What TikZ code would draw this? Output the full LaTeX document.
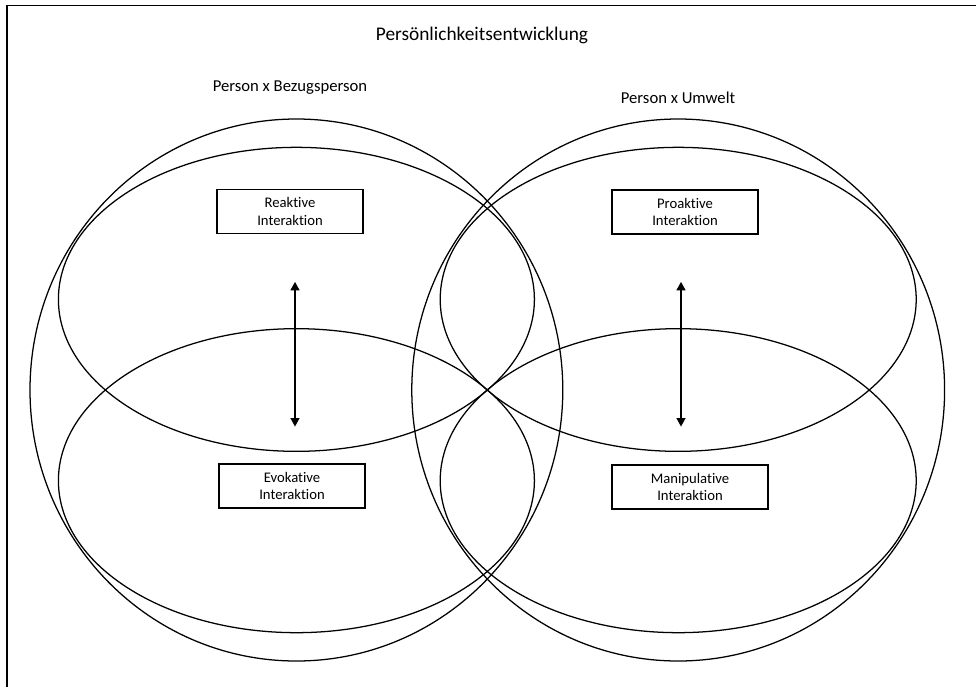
\documentclass[tikz,border=0pt]{standalone}
\usepackage{fontspec}
\setmainfont{Carlito}[Ligatures=NoCommon]
\usetikzlibrary{positioning,arrows.meta}

\begin{document}
\begin{tikzpicture}[
	x=0.75pt, y=-0.75pt,
	ring/.style = {draw, line width=0.95pt},
	typbox/.style = {
		draw, rectangle, align=center, line width=0.9pt,
		font=\fontsize{11}{13.3}\selectfont, inner sep=0pt,
		minimum width=109.5pt, minimum height=33pt, outer sep=0pt},
	heading/.style = {font=\fontsize{12.5}{15}\selectfont},
	arrow/.style = {line width=1.8pt,
		{Triangle[length=6.5pt,width=6.5pt]}-{Triangle[length=6.5pt,width=6.5pt]}}
]
\useasboundingbox (0,0) rectangle (976,687);
\draw[line width=1pt] (7,687) -- (7,5.5) -- (976,5.5);

\node (title) [font=\fontsize{14.5}{17}\selectfont] at (482,35) {Persönlichkeitsentwicklung};
\node (hleft)  [heading] at (290,88) {Person x Bezugsperson};
\node (hright) [heading] at (678,98) {Person x Umwelt};

% centres of the two groups
\coordinate (lc) at (296.4,390);
\coordinate (rc) at (678.2,390);

\draw[ring] (lc) ellipse [x radius=266.4, y radius=271];
\draw[ring] (rc) ellipse [x radius=266.4, y radius=271];
\draw[ring] ([yshift=68pt]lc) ellipse [x radius=238, y radius=152];
\draw[ring] ([yshift=-68pt]lc) ellipse [x radius=238, y radius=152];
\draw[ring] ([yshift=68pt]rc) ellipse [x radius=238, y radius=152];
\draw[ring] ([yshift=-68pt]rc) ellipse [x radius=238, y radius=152];

\node (reak)  [typbox] at (290,211.5) {Reaktive\\ Interaktion};
\node (proak) [typbox] at (685,212)   {Proaktive\\ Interaktion};
\node (evok)  [typbox] at (292,486)   {Evokative\\ Interaktion};
\node (mani)  [typbox, minimum width=117pt] at (690,487) {Manipulative\\ Interaktion};

\coordinate (latop) at (295,281.7);
\coordinate (labot) at (295,426.7);
\coordinate (ratop) at (681,281.7);
\coordinate (rabot) at (681,426.7);
\draw[arrow] (latop) -- (labot);
\draw[arrow] (ratop) -- (rabot);
\end{tikzpicture}
\end{document}
